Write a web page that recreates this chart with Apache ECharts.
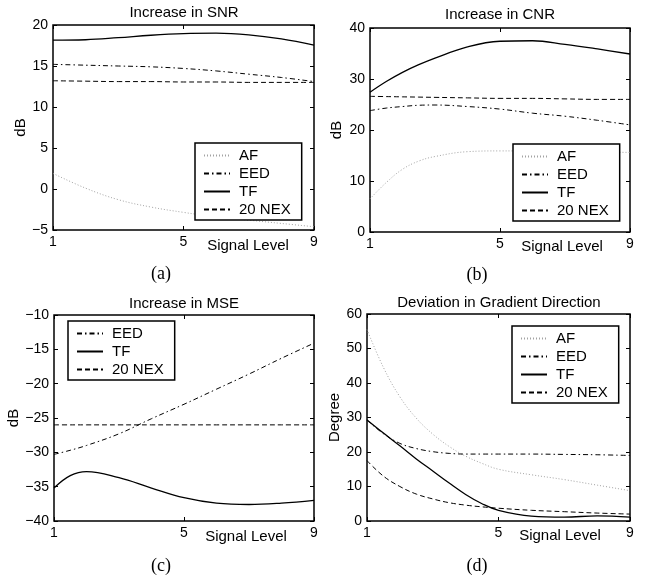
<!DOCTYPE html>
<html>
<head>
<meta charset="utf-8">
<script src="https://cdn.jsdelivr.net/npm/echarts@6/dist/echarts.min.js"></script>
<style>
html,body{margin:0;padding:0;background:#fff;}
#main{width:647px;height:583px;}
</style>
</head>
<body>
<div id="main"></div>
<script>
// signal levels (x) used by each panel
var xsSNR = [1, 2, 3, 4, 5, 6, 7, 8, 9];
var xsCNR = [1, 1.5, 2, 2.5, 3, 4, 5, 6, 7, 8, 9];
var xsMSE = [1, 1.5, 2, 3, 4, 5, 6, 7, 8, 9];
var xsDEG = [1, 1.5, 2, 2.5, 3, 3.5, 4, 4.5, 5, 6, 7, 8, 9];

// (a) Increase in SNR
var snrAF  = [1.9, 0.1, -1.3, -2.2, -2.85, -3.4, -3.8, -4.2, -4.6];
var snrEED = [15.2, 15.1, 15.0, 14.9, 14.7, 14.4, 14.0, 13.6, 13.1];
var snrTF  = [18.15, 18.2, 18.45, 18.75, 18.95, 19.0, 18.8, 18.3, 17.55];
var snrNEX = [13.2, 13.15, 13.1, 13.1, 13.05, 13.05, 13.0, 13.0, 13.0];

// (b) Increase in CNR
var cnrAF  = [6.5, 9.7, 12.3, 13.9, 14.8, 15.75, 15.9, 15.9, 15.8, 15.7, 15.6];
var cnrEED = [23.8, 24.3, 24.6, 24.85, 24.9, 24.6, 24.1, 23.3, 22.7, 21.9, 21.0];
var cnrTF  = [27.4, 29.5, 31.3, 32.8, 34.1, 36.3, 37.4, 37.5, 36.8, 35.9, 34.9];
var cnrNEX = [26.6, 26.55, 26.5, 26.45, 26.4, 26.3, 26.2, 26.2, 26.1, 26.0, 26.0];

// (c) Increase in MSE
var mseEED = [-30.3, -29.7, -29.0, -27.3, -25.1, -23.0, -20.8, -18.6, -16.3, -14.1];
var mseTF  = [-35.2, -33.4, -32.8, -33.7, -35.2, -36.6, -37.4, -37.6, -37.4, -37.0];
var mseNEX = [-26, -26, -26, -26, -26, -26, -26, -26, -26, -26];

// (d) Deviation in Gradient Direction
var degAF  = [55.5, 44.5, 36.0, 29.8, 25.2, 21.6, 18.8, 16.7, 15.0, 13.4, 12.0, 10.4, 8.8];
var degEED = [29.3, 25.3, 22.5, 21.0, 20.1, 19.6, 19.4, 19.4, 19.4, 19.4, 19.3, 19.2, 19.0];
var degTF  = [29.3, 25.5, 21.8, 18.0, 14.5, 11.0, 7.7, 5.0, 3.1, 1.4, 1.1, 1.5, 1.1];
var degNEX = [17.5, 13.0, 10.0, 7.8, 6.4, 5.3, 4.6, 4.1, 3.7, 3.1, 2.7, 2.3, 2.0];

var titles = ['Increase in SNR', 'Increase in CNR', 'Increase in MSE', 'Deviation in Gradient Direction'];
var captions = ['(a)', '(b)', '(c)', '(d)'];
var yNames = ['dB', 'dB', 'dB', 'Degree'];
var yMin = [-5, 0, -40, 0];
var yMax = [20, 40, -10, 60];
var yStep = [5, 10, 5, 10];

var panels = [
  {xs: xsSNR, series: [['AF', snrAF], ['EED', snrEED], ['TF', snrTF], ['20 NEX', snrNEX]]},
  {xs: xsCNR, series: [['AF', cnrAF], ['EED', cnrEED], ['TF', cnrTF], ['20 NEX', cnrNEX]]},
  {xs: xsMSE, series: [['EED', mseEED], ['TF', mseTF], ['20 NEX', mseNEX]]},
  {xs: xsDEG, series: [['AF', degAF], ['EED', degEED], ['TF', degTF], ['20 NEX', degNEX]]}
];

// layout (pixels)
var grids = [
  {left: 53, top: 25, width: 261, height: 205},
  {left: 370, top: 28, width: 260, height: 204},
  {left: 54, top: 315, width: 260, height: 206},
  {left: 367, top: 314, width: 263, height: 207}
];
var legendPos = [[195, 143], [513, 144], [68, 321], [512, 326]];
var titlePos = [[184, 13], [500, 15], [184, 304], [499, 303]];
var capPos = [[161, 274], [477, 275], [161, 566], [477, 566]];
var sigPos = [[248, 246], [562, 247], [246, 537], [560, 536]];
var yNameGap = [23, 26, 24, 23];

var sans = '"Liberation Sans", Arial, Helvetica, sans-serif';
var serif = '"Liberation Serif", "Times New Roman", serif';

var lineStyles = {
  'AF':     {color: '#a3a3a3', type: [1, 2], width: 1},
  'EED':    {color: '#000', type: [5, 3, 1.5, 3], width: 1},
  'TF':     {color: '#000', type: 'solid', width: 1.3},
  '20 NEX': {color: '#000', type: [5, 3], width: 1}
};

function fmt(v) {
  return v < 0 ? '\u2212' + (-v) : String(v);
}

var xAxis = [], yAxis = [], series = [], legend = [], graphic = [];

panels.forEach(function (p, i) {
  var tick = {show: true, inside: true, length: 4, lineStyle: {color: '#000', width: 1}};
  xAxis.push({
    type: 'value', gridIndex: i, position: 'bottom', min: 1, max: 9, interval: 4,
    axisLine: {show: false, onZero: false}, axisTick: tick, splitLine: {show: false},
    axisLabel: {color: '#000', fontSize: 14, fontFamily: sans, margin: 5, formatter: fmt,
      showMinLabel: true, showMaxLabel: true}
  });
  xAxis.push({
    type: 'value', gridIndex: i, position: 'top', min: 1, max: 9, interval: 4,
    axisLine: {show: false, onZero: false}, axisTick: tick, splitLine: {show: false},
    axisLabel: {show: false}
  });
  yAxis.push({
    type: 'value', gridIndex: i, position: 'left', min: yMin[i], max: yMax[i], interval: yStep[i],
    name: yNames[i], nameLocation: 'middle', nameGap: yNameGap[i], nameRotate: 90,
    nameTextStyle: {color: '#000', fontSize: 15, fontFamily: sans},
    axisLine: {show: false, onZero: false}, axisTick: tick, splitLine: {show: false},
    axisLabel: {color: '#000', fontSize: 14, fontFamily: sans, margin: 5, formatter: fmt}
  });
  yAxis.push({
    type: 'value', gridIndex: i, position: 'right', min: yMin[i], max: yMax[i], interval: yStep[i],
    axisLine: {show: false, onZero: false}, axisTick: tick, splitLine: {show: false},
    axisLabel: {show: false}
  });

  p.series.forEach(function (s) {
    var st = lineStyles[s[0]];
    series.push({
      type: 'line', name: s[0], xAxisIndex: 2 * i, yAxisIndex: 2 * i,
      data: p.xs.map(function (x, k) { return [x, s[1][k]]; }),
      smooth: 0.4, symbol: 'none', showSymbol: false,
      lineStyle: {color: st.color, type: st.type, width: st.width},
      itemStyle: {color: st.color},
      emphasis: {disabled: true}, animation: false
    });
  });

  legend.push({
    orient: 'vertical', left: legendPos[i][0], top: legendPos[i][1],
    data: p.series.map(function (s) { return s[0]; }),
    itemWidth: 26, itemHeight: 14, itemGap: 3,
    padding: [5, 11, 3, 8], borderColor: '#000', borderWidth: 1.5, borderRadius: 0,
    backgroundColor: '#fff', selectedMode: false,
    itemStyle: {color: 'rgba(0,0,0,0)', borderColor: 'rgba(0,0,0,0)', borderWidth: 0},
    textStyle: {color: '#000', fontSize: 15, fontFamily: sans, padding: [0, 0, 0, 4]}
  });

  graphic.push({type: 'text', x: titlePos[i][0], y: titlePos[i][1], silent: true,
    style: {text: titles[i], font: '15px ' + sans, fill: '#000',
      textAlign: 'center', textVerticalAlign: 'middle', align: 'center', verticalAlign: 'middle'}});
  graphic.push({type: 'text', x: sigPos[i][0], y: sigPos[i][1], silent: true,
    style: {text: 'Signal Level', font: '15px ' + sans, fill: '#000',
      textAlign: 'center', textVerticalAlign: 'middle', align: 'center', verticalAlign: 'middle'}});
  graphic.push({type: 'text', x: capPos[i][0], y: capPos[i][1], silent: true,
    style: {text: captions[i], font: '18px ' + serif, fill: '#000',
      textAlign: 'center', textVerticalAlign: 'middle', align: 'center', verticalAlign: 'middle'}});
});

var chart = echarts.init(document.getElementById('main'), null, {renderer: 'canvas'});
chart.setOption({
  backgroundColor: '#fff',
  animation: false,
  grid: grids.map(function (g) {
    return {left: g.left, top: g.top, width: g.width, height: g.height,
      show: true, borderColor: '#000', borderWidth: 1.5, backgroundColor: 'transparent'};
  }),
  xAxis: xAxis,
  yAxis: yAxis,
  legend: legend,
  series: series,
  graphic: graphic
});
</script>
</body>
</html>
